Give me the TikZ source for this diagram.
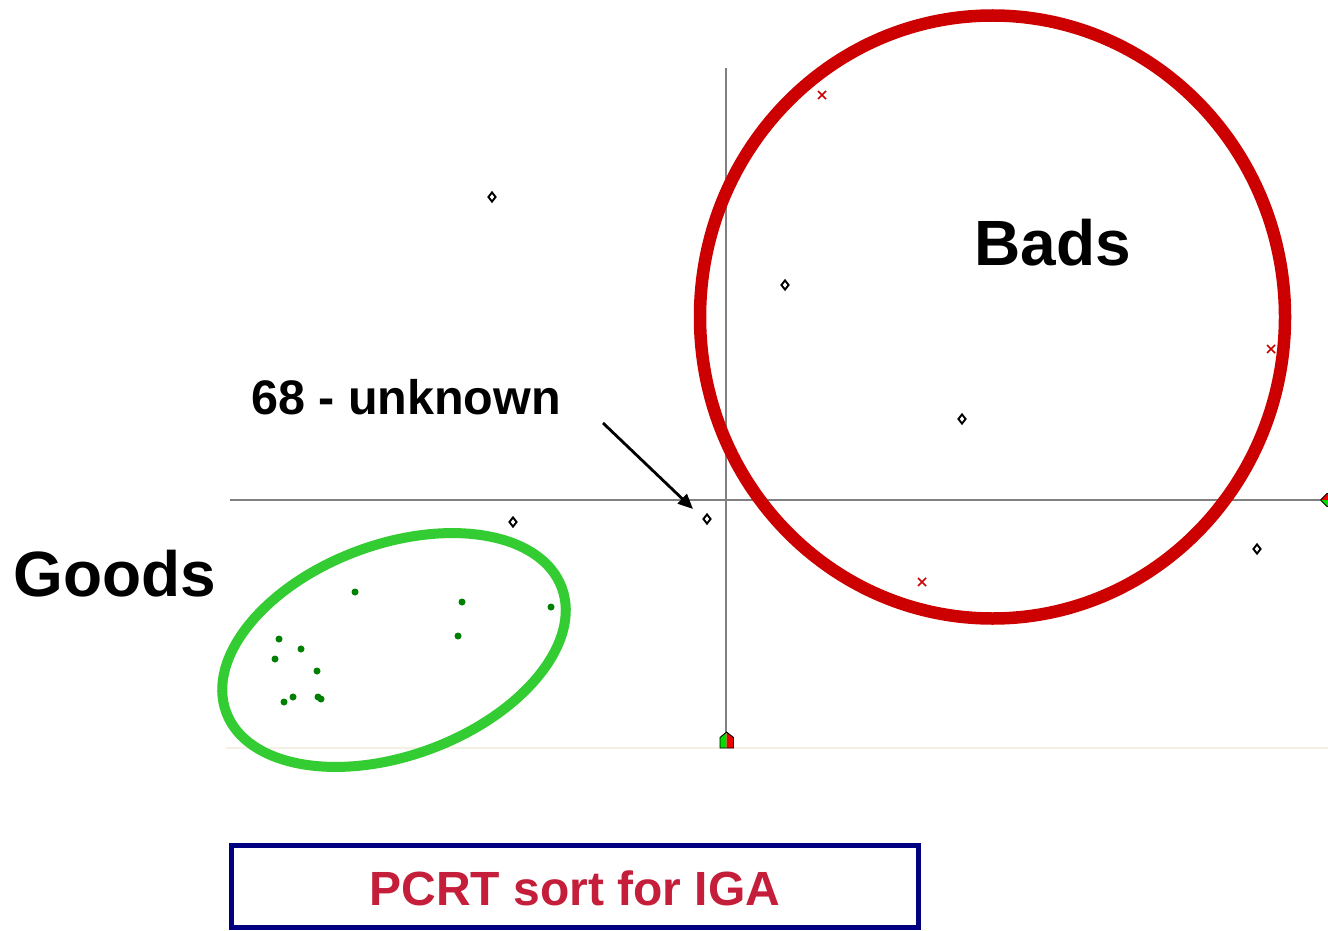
\documentclass[tikz,border=0pt]{standalone}
\usepackage{fontspec}
\setmainfont{Liberation Sans}
\usetikzlibrary{shapes.geometric,shapes.misc,arrows.meta}
\definecolor{axisgray}{HTML}{808080}
\definecolor{ringred}{HTML}{CC0000}
\definecolor{ringgreen}{HTML}{33CC33}
\definecolor{dotgreen}{HTML}{008000}
\definecolor{xred}{HTML}{CC0000}
\definecolor{navyb}{HTML}{000080}
\definecolor{titlered}{HTML}{C41E3A}
\definecolor{faint}{HTML}{F4F1E4}
\definecolor{mkgreen}{HTML}{00DD00}
\definecolor{mkred}{HTML}{EE0000}
\begin{document}
\begin{tikzpicture}[x=1pt,y=-1pt,
  axis/.style={draw=axisgray,line width=1.6pt},
  diam/.style={diamond,draw=black,fill=white,line width=1.9pt,inner sep=0pt,minimum width=8pt,minimum height=10pt},
  xmark/.style={cross out,draw=xred,line width=1.5pt,inner sep=0pt,minimum size=6.5pt},
  gdot/.style={circle,fill=dotgreen,inner sep=0pt,minimum size=7pt},
  bigtext/.style={font=\bfseries\fontsize{64}{70}\selectfont,inner sep=0pt,anchor=base},
  midtext/.style={font=\bfseries\fontsize{48.5}{56}\selectfont,inner sep=0pt,anchor=base},
  marker/.style={draw=black,line width=0.9pt,line join=miter}]
\useasboundingbox (0,0) rectangle (1328,931);
\fill[white] (0,0) rectangle (1328,931);

% faint baseline
\draw[faint,line width=2pt] (226,748) -- (1328,748);

% axes
\coordinate (vtop) at (726,68);
\coordinate (vbot) at (726,732);
\coordinate (hl) at (230,500);
\coordinate (hr) at (1320,500);
\draw[axis] (vtop) -- (vbot);
\draw[axis] (hl) -- (hr);

% axis markers
\fill[mkgreen] (726.5,732) -- (720,737.5) -- (720,748) -- (726.5,748) -- cycle;
\fill[mkred] (726.5,732) -- (733.5,737.5) -- (733.5,748) -- (726.5,748) -- cycle;
\draw[marker] (726.5,732) -- (733.5,737.5) -- (733.5,748) -- (720,748) -- (720,737.5) -- cycle;
\fill[mkred] (1320.5,500) -- (1327,493.5) -- (1328,493.5) -- (1328,500) -- cycle;
\fill[mkgreen] (1320.5,500) -- (1328,500) -- (1328,506.5) -- (1327,506.5) -- cycle;
\draw[marker] (1328,493.5) -- (1327,493.5) -- (1320.5,500) -- (1327,506.5) -- (1328,506.5);

% rings
\draw[ringred,line width=12.5pt] (992.5,317) circle[x radius=292.5, y radius=301.5];
\draw[ringgreen,line width=10pt,rotate around={20.4:(394,650)}] (394,650) circle[x radius=179, y radius=105.5];

% diamonds
\node[diam] (d1) at (492,197) {};
\node[diam] (d2) at (785,285) {};
\node[diam] (d3) at (962,419) {};
\node[diam] (d4) at (513,522) {};
\node[diam] (d5) at (707,519) {};
\node[diam] (d6) at (1257,549) {};

% crosses
\node[xmark] (x1) at (822,95) {};
\node[xmark] (x2) at (1271,349) {};
\node[xmark] (x3) at (922,582) {};

% green dots
\node[gdot] (g1) at (355,592) {};
\node[gdot] (g2) at (279,639) {};
\node[gdot] (g3) at (301,649) {};
\node[gdot] (g4) at (275,659) {};
\node[gdot] (g5) at (317,671) {};
\node[gdot] (g6) at (284,702) {};
\node[gdot] (g7) at (293,697) {};
\node[gdot] (g8) at (318,697) {};
\node[gdot] (g9) at (321,699) {};
\node[gdot] (g10) at (462,602) {};
\node[gdot] (g11) at (458,636) {};
\node[gdot] (g12) at (551,607) {};

% labels
\node[bigtext] (bads) at (1053,265) {Bads};
\node[bigtext] (goods) at (115,596) {Goods};
\node[midtext] (unk) at (406,414) {68 - unknown};

% arrow
\coordinate (arrs) at (603,423);
\coordinate (arrt) at (693,509);
\draw[line width=2.8pt,-{Triangle[length=15pt,width=13pt]}] (arrs) -- (arrt);

% title box
\node[draw=navyb,line width=5pt,minimum width=687pt,minimum height=82pt,inner sep=0pt] (box) at (574.5,886.5) {};
\node[font=\bfseries\fontsize{48}{56}\selectfont,text=titlered,inner sep=0pt,anchor=base] (title) at (575,905) {PCRT sort for IGA};
\end{tikzpicture}
\end{document}
